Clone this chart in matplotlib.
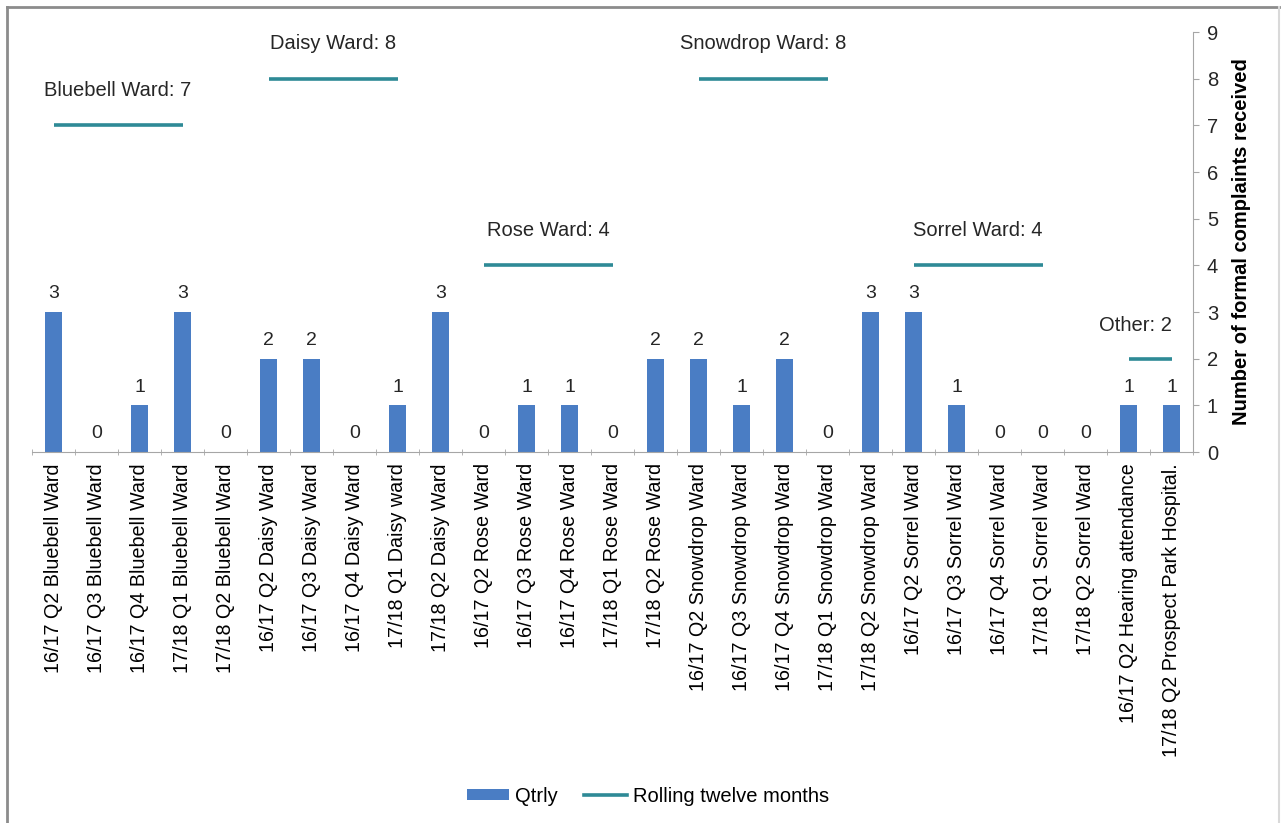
import numpy as np
import matplotlib
matplotlib.use("Agg")
import matplotlib.pyplot as plt
from matplotlib.lines import Line2D
from matplotlib.patches import Patch

plt.rcParams['font.family'] = ['Liberation Sans', 'DejaVu Sans']

categories = [
    "16/17 Q2 Bluebell Ward", "16/17 Q3 Bluebell Ward", "16/17 Q4 Bluebell Ward",
    "17/18 Q1 Bluebell Ward", "17/18 Q2 Bluebell Ward",
    "16/17 Q2 Daisy Ward", "16/17 Q3 Daisy Ward", "16/17 Q4 Daisy Ward",
    "17/18 Q1 Daisy ward", "17/18 Q2 Daisy Ward",
    "16/17 Q2 Rose Ward", "16/17 Q3 Rose Ward", "16/17 Q4 Rose Ward",
    "17/18 Q1 Rose Ward", "17/18 Q2 Rose Ward",
    "16/17 Q2 Snowdrop Ward", "16/17 Q3 Snowdrop Ward", "16/17 Q4 Snowdrop Ward",
    "17/18 Q1 Snowdrop Ward", "17/18 Q2 Snowdrop Ward",
    "16/17 Q2 Sorrel Ward", "16/17 Q3 Sorrel Ward", "16/17 Q4 Sorrel Ward",
    "17/18 Q1 Sorrel Ward", "17/18 Q2 Sorrel Ward",
    "16/17 Q2 Hearing attendance", "17/18 Q2 Prospect Park Hospital.",
]
qtrly = [3, 0, 1, 3, 0,
         2, 2, 0, 1, 3,
         0, 1, 1, 0, 2,
         2, 1, 2, 0, 3,
         3, 1, 0, 0, 0,
         1, 1]

# Rolling twelve-month totals: (label, first category index, last category index, value)
rolling_names = ["Bluebell Ward", "Daisy Ward", "Rose Ward", "Snowdrop Ward", "Sorrel Ward", "Other"]
rolling_start = [0, 5, 10, 15, 20, 25]
rolling_end = [3, 8, 13, 18, 23, 26]
rolling_values = [7, 8, 4, 8, 4, 2]

bar_color = "#4A7DC4"
line_color = "#2E8A96"
text_color = "#262626"

fig = plt.figure(figsize=(12.81, 8.23), dpi=100)
ax = fig.add_axes([32 / 1281, 1 - 452 / 823, (1193 - 32) / 1281, (452 - 32) / 823])

x = np.arange(len(categories))
ax.bar(x, qtrly, width=0.4, color=bar_color, zorder=2)
for xi, v in zip(x, qtrly):
    ax.annotate(str(v), (xi, v), xytext=(0, 7), textcoords="offset points",
                ha="center", va="bottom", fontsize=14, color=text_color)

for name, s, e, v in zip(rolling_names, rolling_start, rolling_end, rolling_values):
    ax.plot([s, e], [v, v], color=line_color, lw=2.6, solid_capstyle="butt", zorder=3)
    label = f"{name}: {v}"
    if name == "Other":
        ax.annotate(label, (e, v), xytext=(0, 24), textcoords="offset points",
                    ha="right", va="center", fontsize=14.5, color=text_color)
    else:
        ax.annotate(label, ((s + e) / 2, v), xytext=(0, 25), textcoords="offset points",
                    ha="center", va="center", fontsize=14.5, color=text_color)

ax.set_xlim(-0.5, len(categories) - 0.5)
ax.set_ylim(0, 9)

for side in ["top", "left"]:
    ax.spines[side].set_visible(False)
ax.spines["bottom"].set_color("#A6A6A6")
ax.spines["right"].set_color("#A6A6A6")

ax.yaxis.tick_right()
ax.yaxis.set_label_position("right")
ax.set_yticks(range(0, 10))
ax.tick_params(axis="y", colors="#A6A6A6", labelcolor=text_color, labelsize=14.5,
               length=4, pad=6)
ax.set_ylabel("Number of formal complaints received", fontsize=14.5,
              fontweight="bold", color="black", labelpad=10)

ax.set_xticks(x)
ax.set_xticklabels(categories, rotation=90, fontsize=14.2, color="black")
ax.tick_params(axis="x", which="major", length=0, pad=8)
ax.set_xticks(np.arange(-0.5, len(categories), 1.0), minor=True)
ax.tick_params(axis="x", which="minor", length=4, direction="inout", color="#A6A6A6")

handles = [Patch(facecolor=bar_color, label="Qtrly"),
           Line2D([0], [0], color=line_color, lw=2.6, label="Rolling twelve months")]
fig.legend(handles=handles, loc="center", bbox_to_anchor=(648 / 1281, 1 - 796 / 823),
           ncol=2, frameon=False, fontsize=14.5, handlelength=2.1, handleheight=0.45,
           columnspacing=1.3, handletextpad=0.3)

# outer frame of the chart area
fig.add_artist(Line2D([7 / 1281, 7 / 1281], [0, 1 - 7 / 823], transform=fig.transFigure,
                      color="#8C8C8C", lw=2))
fig.add_artist(Line2D([7 / 1281, 1279 / 1281], [1 - 7 / 823, 1 - 7 / 823],
                      transform=fig.transFigure, color="#8C8C8C", lw=2))
fig.add_artist(Line2D([1279 / 1281, 1279 / 1281], [0, 1 - 7 / 823], transform=fig.transFigure,
                      color="#D9D9D9", lw=1.5))

fig.savefig("out.png", dpi=100)
